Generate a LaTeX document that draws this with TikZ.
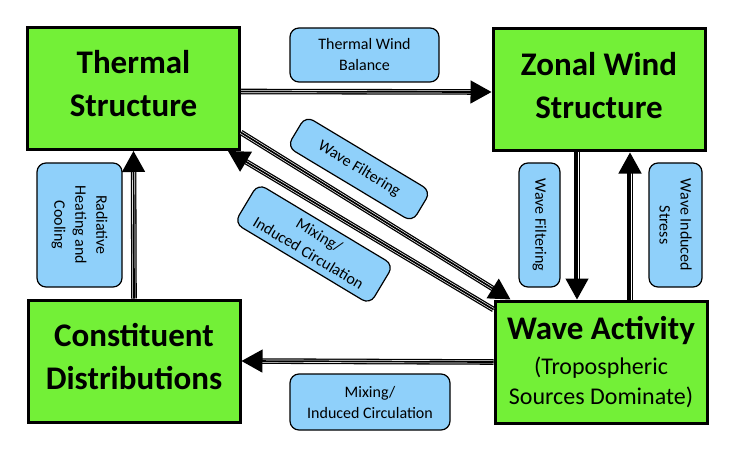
\documentclass[tikz,border=0pt]{standalone}
\usepackage{fontspec}
\setmainfont{Carlito}
\usetikzlibrary{arrows.meta}

\definecolor{boxgreen}{RGB}{115,240,55}
\definecolor{tagblue}{RGB}{143,208,250}

\newcommand{\lift}{\rule[-10pt]{0pt}{0pt}}

\tikzstyle{block} = [draw, line width=3pt, fill=boxgreen, minimum width=212pt, minimum height=122pt, inner sep=0pt, align=center, font=\bfseries\fontsize{33}{43}\selectfont]
\tikzstyle{tag} = [draw, line width=1.2pt, fill=tagblue, rounded corners=9pt, inner sep=0pt, align=center, font=\fontsize{16}{21}\selectfont]
\tikzstyle{pipe} = [line width=1.3pt, double=white, double distance=3pt, -{Triangle[length=21pt,width=23pt]}, postaction={draw, line width=1.7pt, -, shorten >=20pt}]

\begin{document}
\begin{tikzpicture}[x=1pt, y=-1pt]
\useasboundingbox (0,0) rectangle (735,457);

% Main boxes
\node (therm) [block] at (133.5,88.5) {Thermal\\Structure\lift};
\node (zonal) [block] at (599,90) {Zonal Wind\\Structure\lift};
\node (const) [block] at (134,361) {Constituent\\Distributions\lift};
\node (wave) [block, font=\fontsize{24}{30}\selectfont] at (601,362) {{\bfseries\fontsize{33}{30}\selectfont Wave Activity}\\[5pt](Tropospheric\\Sources Dominate)};

% Labels
\node (lbalance) [tag, minimum width=149pt, minimum height=54pt] at (364.5,55) {Thermal Wind\\Balance};
\node (lradiat) [tag, rotate=-90, minimum width=124pt, minimum height=85pt] at (79.5,225) {Radiative\\Heating and\\Cooling};
\node (lfiltv) [tag, rotate=-90, minimum width=124pt, minimum height=41pt] at (539.5,225) {Wave Filtering};
\node (lstress) [tag, rotate=-90, minimum width=124pt, minimum height=53pt] at (675.5,225) {Wave Induced\\Stress};
\node (lmixb) [tag, minimum width=160pt, minimum height=56pt] at (370,402) {Mixing/\\Induced Circulation};
\node (lfiltd) [tag, rotate=-31, minimum width=146pt, minimum height=36pt] at (359,169) {Wave Filtering};
\node (lmixd) [tag, rotate=-31, minimum width=158pt, minimum height=46pt] at (314,244) {Mixing/\\Induced Circulation};

% Arrows
\draw [pipe] ([yshift=-3pt]therm.east) -- ([yshift=-2pt]zonal.west);
\draw [pipe] (const.north) -- (therm.south);
\draw [pipe] ([xshift=-22pt]zonal.south) -- ([xshift=-24pt]wave.north);
\draw [pipe] ([xshift=29pt]wave.north) -- ([xshift=31pt]zonal.south);
\draw [pipe] (wave.west) -- (const.east);
\draw [pipe] ([yshift=-44pt]therm.east) -- ([xshift=17pt]wave.north west);
\draw [pipe] ([yshift=-10pt]wave.north west) -- ([xshift=-13pt]therm.south east);

\end{tikzpicture}
\end{document}
